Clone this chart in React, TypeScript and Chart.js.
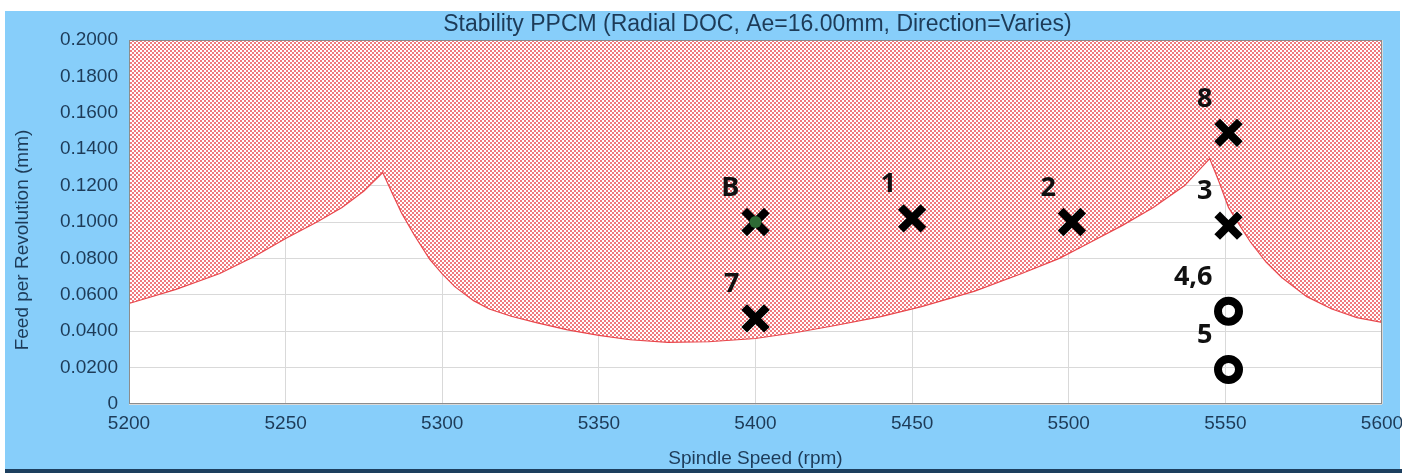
import { useEffect, useRef } from 'react';
import { Chart, registerables } from 'chart.js';

Chart.register(...registerables);

// Stability boundary (spindle speed rpm -> feed per revolution mm)
const boundaryRpm = [
  5200, 5215, 5229, 5240, 5250, 5260, 5268, 5275, 5281, 5284, 5287, 5291, 5296, 5300, 5304, 5310,
  5315, 5322, 5330, 5340, 5350, 5360, 5372, 5385, 5400, 5413, 5425, 5440, 5453, 5470, 5485, 5497,
  5506, 5517, 5527, 5537, 5545, 5548, 5551, 5555, 5558, 5563, 5568, 5576, 5584, 5592, 5600,
];
const boundaryFeed = [
  0.0552, 0.063, 0.0717, 0.081, 0.0909, 0.1, 0.108, 0.117, 0.1272, 0.116, 0.105, 0.093, 0.0795, 0.0715,
  0.0645, 0.0568, 0.0522, 0.0482, 0.0447, 0.0407, 0.0377, 0.0353, 0.0339, 0.0342, 0.036, 0.0393, 0.043,
  0.048, 0.0535, 0.062, 0.0717, 0.08, 0.088, 0.098, 0.108, 0.12, 0.1349, 0.122, 0.108, 0.097, 0.089,
  0.078, 0.0695, 0.059, 0.0522, 0.0475, 0.0448,
];

// Test cuts
const testLabels = ['B', '1', '2', '3', '8', '7', '4,6', '5'];
const testRpm = [5400, 5450, 5501, 5551, 5551, 5400, 5551, 5551];
const testFeed = [0.1, 0.102, 0.1, 0.098, 0.149, 0.047, 0.051, 0.019];
const testKind = ['baseline', 'chatter', 'chatter', 'chatter', 'chatter', 'chatter', 'stable', 'stable'];

const xTickMin = 5200;
const xTickMax = 5600;
const xTickStep = 50;
const yTickMin = 0;
const yTickMax = 0.2;
const yTickStep = 0.02;

const titleText = 'Stability PPCM (Radial DOC, Ae=16.00mm, Direction=Varies)';
const xTitle = 'Spindle Speed (rpm)';
const yTitle = 'Feed per Revolution (mm)';

const TEXT = '#1d3b58';
const FONT = '"Liberation Sans", Arial, sans-serif';

function makePattern(): CanvasPattern | string {
  const tile = document.createElement('canvas');
  tile.width = 4;
  tile.height = 4;
  const c = tile.getContext('2d');
  if (!c) return '#f4a0a0';
  c.fillStyle = '#ffffff';
  c.fillRect(0, 0, 4, 4);
  c.fillStyle = '#f07a7e';
  c.fillRect(0, 0, 2, 2);
  c.fillRect(2, 2, 2, 2);
  return c.createPattern(tile, 'repeat') || '#f4a0a0';
}

export default function App() {
  const ref = useRef<HTMLCanvasElement | null>(null);

  useEffect(() => {
    const canvas = ref.current;
    if (!canvas) return;
    const pattern = makePattern();

    const pts = (kind: string) =>
      testRpm
        .map((x, i) => ({ x, y: testFeed[i], k: testKind[i] }))
        .filter((p) => (kind === 'cross' ? p.k !== 'stable' : p.k === kind))
        .map((p) => ({ x: p.x, y: p.y }));

    const bgPlugin = {
      id: 'bgPlugin',
      beforeDraw(chart: any) {
        const { ctx, chartArea: a } = chart;
        ctx.save();
        ctx.fillStyle = '#ffffff';
        ctx.fillRect(a.left, a.top, a.right - a.left, a.bottom - a.top);
        ctx.restore();
      },
      afterDatasetsDraw(chart: any) {
        const { ctx, chartArea: a, scales } = chart;
        ctx.save();
        ctx.strokeStyle = '#8c8c8c';
        ctx.lineWidth = 1;
        ctx.strokeRect(Math.round(a.left) + 0.5, Math.round(a.top) + 0.5, Math.round(a.right - a.left) - 1, Math.round(a.bottom - a.top) - 1);
        // point labels
        ctx.fillStyle = '#111111';
        ctx.font = 'bold 27px "Open Sans", "Liberation Sans", sans-serif';
        ctx.textAlign = 'right';
        ctx.textBaseline = 'middle';
        testLabels.forEach((lab, i) => {
          const px = scales.x.getPixelForValue(testRpm[i]);
          const py = scales.y.getPixelForValue(testFeed[i]);
          ctx.fillText(lab, px - 16, py - 34);
        });
        ctx.restore();
      },
      afterDraw(chart: any) {
        const { ctx, chartArea: a } = chart;
        ctx.save();
        ctx.fillStyle = TEXT;
        ctx.textAlign = 'center';
        ctx.textBaseline = 'middle';
        ctx.font = `23px ${FONT}`;
        ctx.fillText(titleText, (a.left + a.right) / 2 + 2, 25);
        ctx.font = `19px ${FONT}`;
        ctx.fillText(xTitle, (a.left + a.right) / 2, 459);
        ctx.translate(23, 240);
        ctx.rotate(-Math.PI / 2);
        ctx.fillText(yTitle, 0, 0);
        ctx.restore();
      },
    };

    const chart = new Chart(canvas, {
      type: 'scatter',
      data: {
        datasets: [
          {
            type: 'line',
            label: 'Unstable region',
            data: boundaryRpm.map((x, i) => ({ x, y: boundaryFeed[i] })),
            borderColor: '#e8474c',
            borderWidth: 1.2,
            backgroundColor: pattern as any,
            fill: 'end',
            pointRadius: 0,
            tension: 0,
            order: 5,
          } as any,
          {
            label: 'Chatter',
            data: pts('cross'),
            pointStyle: 'crossRot',
            pointRadius: 16,
            borderWidth: 8,
            borderColor: '#000000',
            backgroundColor: '#000000',
            order: 2,
          },
          {
            label: 'Stable',
            data: pts('stable'),
            pointStyle: 'circle',
            pointRadius: 10.5,
            borderWidth: 8,
            borderColor: '#000000',
            backgroundColor: 'rgba(0,0,0,0)',
            order: 2,
          },
          {
            label: 'Baseline',
            data: pts('baseline'),
            pointStyle: 'circle',
            pointRadius: 6,
            borderWidth: 0,
            backgroundColor: '#2e6a35',
            order: 1,
          },
        ],
      },
      options: {
        responsive: false,
        animation: false,
        layout: { autoPadding: false, padding: { top: 40, right: 20, bottom: 0, left: 0 } },
        plugins: {
          legend: { display: false },
          tooltip: { enabled: false },
          title: { display: false },
        },
        scales: {
          x: {
            type: 'linear',
            min: xTickMin,
            max: xTickMax,
            afterFit: (s: any) => {
              s.height = 69;
              s.paddingLeft = 0;
              s.paddingRight = 0;
            },
            ticks: {
              stepSize: xTickStep,
              color: TEXT,
              font: { family: FONT, size: 19 },
              padding: 8,
              maxRotation: 0,
              autoSkip: false,
              callback: (v: any) => String(v),
            },
            grid: { color: '#d9d9d9', drawTicks: false },
            border: { display: false },
          },
          y: {
            type: 'linear',
            min: yTickMin,
            max: yTickMax,
            afterFit: (s: any) => {
              s.width = 129;
              s.paddingTop = 0;
              s.paddingBottom = 0;
            },
            ticks: {
              stepSize: yTickStep,
              color: TEXT,
              font: { family: FONT, size: 19 },
              padding: 11,
              autoSkip: false,
              callback: (v: any) => (Number(v) === 0 ? '0' : Number(v).toFixed(4)),
            },
            grid: { color: '#d9d9d9', drawTicks: false },
            border: { display: false },
          },
        },
      },
      plugins: [bgPlugin],
    });

    return () => chart.destroy();
  }, []);

  return (
    <div style={{ position: 'fixed', left: 0, top: 0, width: 1402, height: 473, background: '#ffffff', overflow: 'hidden' }}>
      <div style={{ position: 'absolute', left: 5, top: 11, width: 1395, height: 458, background: '#87cefa' }} />
      <div style={{ position: 'absolute', left: 5, top: 469, width: 1397, height: 4, background: '#1d3f5e' }} />
      <canvas ref={ref} width={1402} height={473} style={{ position: 'absolute', left: 0, top: 0, width: 1402, height: 473 }} />
    </div>
  );
}
